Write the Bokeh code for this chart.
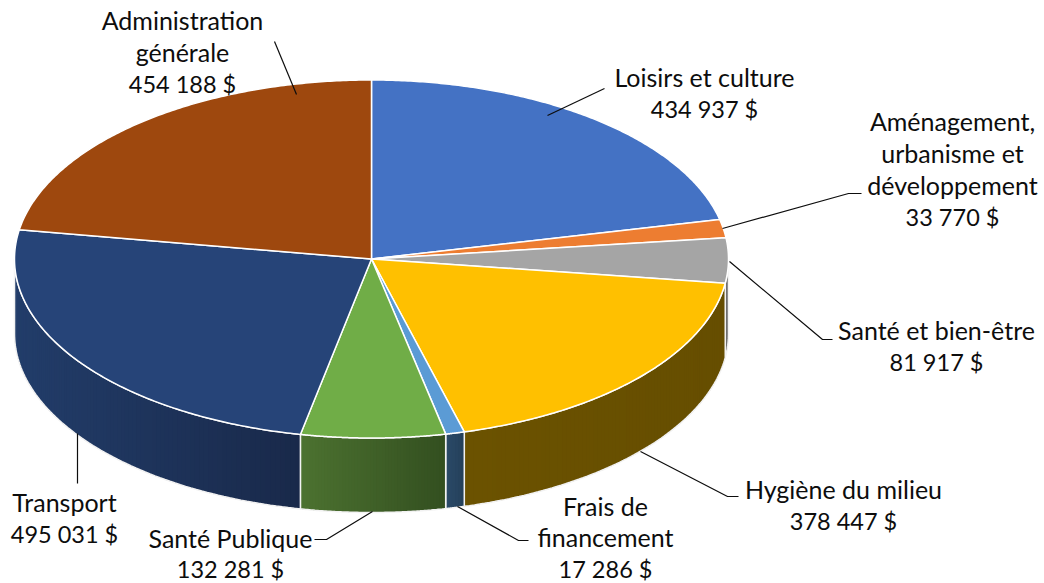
import numpy as np
from bokeh.core.properties import value
from bokeh.embed import file_html
from bokeh.models import Range1d
from bokeh.plotting import figure
from bokeh.resources import INLINE

categories = ["Loisirs et culture", "Aménagement, urbanisme et développement", "Santé et bien-être",
              "Hygiène du milieu", "Frais de financement", "Santé Publique", "Transport", "Administration générale"]
amounts = [434937, 33770, 81917, 378447, 17286, 132281, 495031, 454188]
top_colors = ["#4472C4", "#ED7D31", "#A5A5A5", "#FFC000", "#5B9BD5", "#70AD47", "#264478", "#9E480E"]
wall_left = ["#2F4F88", "#A45622", "#6E6E6E", "#6B5200", "#2A4A68", "#4C7230", "#223D6A", "#6E320A"]
wall_right = ["#2F4F88", "#A45622", "#6E6E6E", "#664E00", "#25405A", "#334F20", "#19294A", "#6E320A"]
label_lines = [["Loisirs et culture", "434 937 $"],
               ["Aménagement,", "urbanisme et", "développement", "33 770 $"],
               ["Santé et bien-être", "81 917 $"],
               ["Hygiène du milieu", "378 447 $"],
               ["Frais de", "financement", "17 286 $"],
               ["Santé Publique", "132 281 $"],
               ["Transport", "495 031 $"],
               ["Administration", "générale", "454 188 $"]]

# Layout (page pixel positions)
CX, CY, RX, RY, DEPTH = 371.0, 258.5, 357.0, 179.0, 74.5
label_x = [704, 952, 936, 843, 605, 230, 64, 182]
label_y = [76.5, 120.5, 329.5, 488.5, 505, 537, 501.5, 19.5]
label_gap = [32, 32, 32, 32, 31.5, 31, 32, 32]
leaders = [[(547, 115), (604, 88)],
           [(722, 228), (848, 193), (861, 193)],
           [(729, 261), (822, 339), (832, 339)],
           [(640, 451), (727, 496), (738, 496)],
           [(457, 506), (518, 540), (528, 540)],
           [(372, 511), (326, 539), (314, 539)],
           [(77, 433), (77, 483)],
           [(274, 41), (296, 94)]]

p = figure(width=1044, height=583, output_backend="svg", toolbar_location=None,
           x_axis_type=None, y_axis_type=None, min_border=0,
           x_range=Range1d(0, 1044), y_range=Range1d(583, 0), outline_line_color=None)
p.grid.visible = False


def ex(t):
    return CX + RX * np.sin(t)


def ey(t):
    return CY - RY * np.cos(t)


def hex2rgb(c):
    return np.array([int(c[i:i + 2], 16) for i in (1, 3, 5)], float)


fractions = np.array(amounts, float) / sum(amounts)
edges = np.concatenate([[0], np.cumsum(fractions)]) * 2 * np.pi

# side walls: front half only, shaded left to right in overlapping thin strips
for i in range(len(amounts)):
    a0, a1 = max(edges[i], np.pi / 2), min(edges[i + 1], 3 * np.pi / 2)
    if a1 <= a0:
        continue
    n = max(2, int(abs(ex(a1) - ex(a0)) / 3))
    ts = np.linspace(a0, a1, n + 1)
    xs_all, ys_all, cols = [], [], []
    xl, xr = min(ex(a0), ex(a1)), max(ex(a0), ex(a1))
    cl, cr = hex2rgb(wall_left[i]), hex2rgb(wall_right[i])
    for k in range(n):
        tt = np.linspace(ts[k], ts[min(k + 2, n)], 6)
        xs_all.append(list(ex(tt)) + list(ex(tt[::-1])))
        ys_all.append(list(ey(tt)) + list(ey(tt[::-1]) + DEPTH))
        f = (ex((ts[k] + ts[k + 1]) / 2) - xl) / max(xr - xl, 1)
        c = cl + (cr - cl) * f
        cols.append("#%02x%02x%02x" % tuple(int(round(v)) for v in c))
    p.patches(xs_all, ys_all, fill_color=cols, line_color=None)
    tt = np.linspace(a0, a1, 80)
    p.patch(list(ex(tt)) + list(ex(tt[::-1])), list(ey(tt)) + list(ey(tt[::-1]) + DEPTH),
            fill_alpha=0, line_color="#F2F2F2", line_width=1.5)

# top face
for i in range(len(amounts)):
    tt = np.linspace(edges[i], edges[i + 1], 160)
    p.patch([CX] + list(ex(tt)), [CY] + list(ey(tt)), fill_color=top_colors[i],
            line_color="white", line_width=1.5, line_join="round")

# leaders and labels
for pts in leaders:
    p.line([q[0] for q in pts], [q[1] for q in pts], line_color="#0D0D0D", line_width=1.2)
for lines, x, y, gap in zip(label_lines, label_x, label_y, label_gap):
    for j, s in enumerate(lines):
        size = "23.5px" if s.endswith("$") else "25px"
        p.text([x], [y + j * gap], text=[s], text_align="center", text_baseline="middle",
               text_font=value("Lato"), text_font_size=value(size), text_color="#0D0D0D")

open("out.html", "w").write(file_html(p, INLINE))
